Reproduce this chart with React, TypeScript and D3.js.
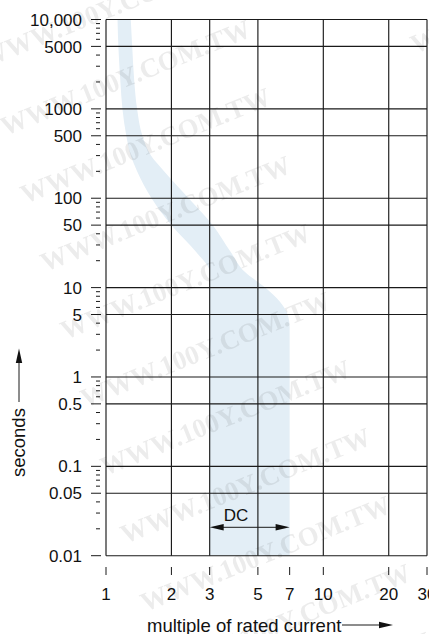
import React from "react";
import * as d3 from "d3";

const W = 429;
const H = 634;

// X axis (multiple of rated current)
const xTickValues = [1, 2, 3, 5, 7, 10, 20, 30];
const xGridValues = [2, 3, 5, 10, 20, 30];
// Y axis (seconds)
const yMajorValues = [10000, 5000, 1000, 500, 100, 50, 10, 5, 1, 0.5, 0.1, 0.05, 0.01];
const yMajorLabels = ["10,000", "5000", "1000", "500", "100", "50", "10", "5", "1", "0.5", "0.1", "0.05", "0.01"];

// Trip band (time in seconds, left / right current multiple)
const bandTimes = [10000, 5000, 2000, 1000, 500, 300, 200, 100, 50, 25, 15, 10, 7, 5, 3.6, 0.01];
const bandLeft = [1.13, 1.14, 1.165, 1.19, 1.24, 1.3, 1.39, 1.62, 2.0, 2.6, 3, 3, 3, 3, 3, 3];
const bandRight = [1.3, 1.32, 1.35, 1.39, 1.47, 1.61, 1.85, 2.4, 3.1, 3.75, 4.35, 5.4, 6.3, 6.85, 7, 7];

// DC range annotation
const dcRange = [3, 7];
const dcLabel = "DC";

// background watermark text
const watermark = "WWW.100Y.COM.TW";

const FONT = "'Liberation Sans', Arial, Helvetica, sans-serif";
const INK = "#1a1a1a";

export default function App() {
  const x = d3.scaleLog().domain([1, 30]).range([106, 427]);
  const y = d3.scaleLog().domain([10000, 0.01]).range([19.5, 555.7]);

  const minorY = y.ticks().filter((v) => !yMajorValues.some((m) => Math.abs(m - v) / m < 1e-6));

  const bandData = bandTimes.map((t, i) => ({ t, l: bandLeft[i], r: bandRight[i] }));
  const area = d3
    .area<{ t: number; l: number; r: number }>()
    .y((d) => y(d.t))
    .x0((d) => x(d.l))
    .x1((d) => x(d.r))
    .curve(d3.curveMonotoneY);

  const x0 = x.range()[0];
  const x1 = x.range()[1];
  const yTop = y.range()[0];
  const yBot = y.range()[1];

  const dcY = 527.3;
  const dcL = x(dcRange[0]);
  const dcR = x(dcRange[1]);

  // watermark tiling (layout only)
  const marks: { x: number; y: number }[] = [];
  for (let k = -3; k < 13; k++) {
    for (let j = -1; j < 3; j++) {
      marks.push({ x: -15 + 20 * k + 390 * j, y: 68 + 68 * k - 150 * j });
    }
  }

  return (
    <svg
      width={W}
      height={H}
      style={{ position: "absolute", left: 0, top: 0, background: "#fff" }}
      fontFamily={FONT}
    >
      <rect x={0} y={0} width={W} height={H} fill="#fff" />
      {/* band */}
      <path d={area(bandData) || ""} fill="#e3eef6" />

      {/* horizontal grid */}
      {yMajorValues.map((v) => (
        <line key={"hg" + v} x1={x0} x2={x1} y1={y(v)} y2={y(v)} stroke={INK} strokeWidth={1.15} />
      ))}
      {/* vertical grid */}
      {xGridValues.map((v) => (
        <line key={"vg" + v} x1={x(v)} x2={x(v)} y1={yTop} y2={yBot} stroke={INK} strokeWidth={1.15} />
      ))}
      {/* y axis line */}
      <line x1={x0} x2={x0} y1={yTop} y2={yBot} stroke={INK} strokeWidth={1.15} />

      {/* y ticks */}
      {yMajorValues.map((v, i) => (
        <g key={"yt" + v}>
          <line x1={91} x2={101} y1={y(v)} y2={y(v)} stroke={INK} strokeWidth={1} />
          <text x={82} y={y(v)} dy="0.36em" textAnchor="end" fontSize={17} fill="#111">
            {yMajorLabels[i]}
          </text>
        </g>
      ))}
      {minorY.map((v) => (
        <line key={"ym" + v} x1={96} x2={100} y1={y(v)} y2={y(v)} stroke={INK} strokeWidth={1} />
      ))}

      {/* x ticks */}
      {xTickValues.map((v) => (
        <g key={"xt" + v}>
          <line x1={x(v)} x2={x(v)} y1={567} y2={575} stroke={INK} strokeWidth={1} />
          <text x={x(v)} y={600} textAnchor="middle" fontSize={17} fill="#111">
            {v}
          </text>
        </g>
      ))}

      {/* DC annotation */}
      <text x={236} y={521} textAnchor="middle" fontSize={17} fill="#111">
        {dcLabel}
      </text>
      <line x1={dcL + 10} x2={dcR - 10} y1={dcY} y2={dcY} stroke={INK} strokeWidth={1} />
      <path d={`M${dcL},${dcY} L${dcL + 14},${dcY - 3.2} L${dcL + 14},${dcY + 3.2} Z`} fill="#111" />
      <path d={`M${dcR},${dcY} L${dcR - 14},${dcY - 3.2} L${dcR - 14},${dcY + 3.2} Z`} fill="#111" />

      {/* x title */}
      <text x={147} y={632} fontSize={18.5} fill="#111">
        multiple of rated current
      </text>
      <line x1={342} x2={385} y1={625} y2={625} stroke={INK} strokeWidth={1} />
      <path d={`M393,625 L379,621.8 L379,628.2 Z`} fill="#111" />

      {/* y title */}
      <text transform="translate(25,477) rotate(-90)" x={0} y={0} fontSize={18.5} fill="#111">
        seconds
      </text>
      <line x1={19} x2={19} y1={402} y2={358} stroke={INK} strokeWidth={1} />
      <path d={`M19,348.5 L15.8,363 L22.2,363 Z`} fill="#111" />

      {/* watermark */}
      <g
        fontFamily="'Liberation Serif', 'Times New Roman', serif"
        fontWeight="bold"
        fontSize={27}
        fill="#000"
        opacity={0.075}
      >
        {marks.map((m, i) => (
          <text key={"wm" + i} transform={`translate(${m.x},${m.y}) rotate(-22)`}>
            {watermark}
          </text>
        ))}
      </g>
    </svg>
  );
}
